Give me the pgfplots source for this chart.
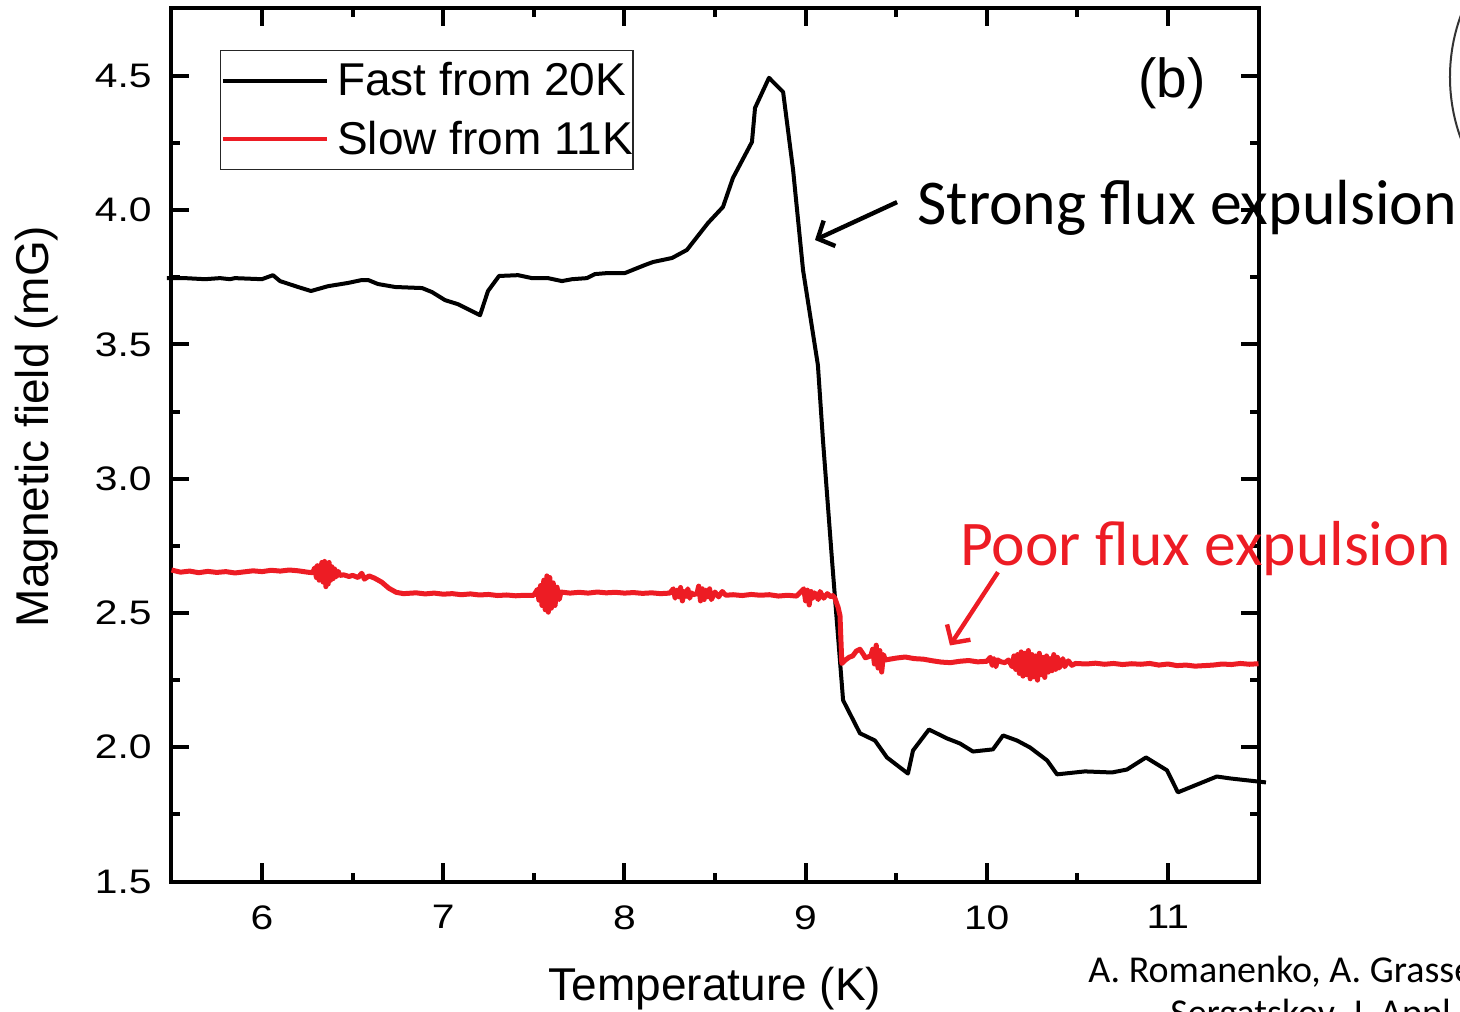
\documentclass[border=0pt]{standalone}
\usepackage{fontspec}
\setmainfont{Liberation Sans}
\newfontfamily\calibri{Carlito}
\newfontfamily\tickfont[FakeStretch=1.2]{Liberation Sans}
\usepackage{pgfplots}
\pgfplotsset{compat=1.18}
\usetikzlibrary{arrows.meta}
\definecolor{myred}{RGB}{237,28,36}
\begin{document}
\begin{tikzpicture}
\useasboundingbox (-85.75pt,-64.75pt) rectangle (644.25pt,440.75pt);
\clip (-85.75pt,-64.75pt) rectangle (644.25pt,440.75pt);
\begin{axis}[
  at={(0,0)}, anchor=south west,
  scale only axis, width=543.5pt, height=436.75pt,
  xmin=5.5, xmax=11.5, ymin=1.5, ymax=4.753,
  xtick={6,7,8,9,10,11}, ytick={1.5,2,2.5,3,3.5,4,4.5},
  minor x tick num=1, minor y tick num=1,
  tick align=inside, major tick length=9pt, minor tick length=4.5pt,
  axis line style={line width=2pt},
  every tick/.style={line width=2pt, black},
  /pgf/number format/assume math mode=true,
  tick label style={font={\fontsize{17}{20}\tickfont}},
  xticklabel style={inner sep=0pt, anchor=north, yshift=-11.75pt},
  yticklabel style={inner sep=0pt, anchor=east, xshift=-9.75pt,
    /pgf/number format/fixed, /pgf/number format/fixed zerofill, /pgf/number format/precision=1},
  xlabel={Temperature (K)},
  ylabel={Magnetic field (mG)},
  label style={font=\fontsize{23}{27.6}\selectfont},
  xlabel style={at={(axis description cs:0.5,-0.1368)}, anchor=base, inner sep=0pt},
  ylabel style={at={(axis description cs:-0.1127,0.521)}, anchor=base, inner sep=0pt, rotate=0},
  clip=false,
  legend style={at={(axis description cs:0.0446,0.952)}, anchor=north west,
    draw=black!85, line width=0.75pt, inner xsep=0pt, inner ysep=4pt,
    font=\fontsize{23}{27.6}\selectfont, row sep=7pt, column sep=4pt,
    nodes={inner xsep=0pt, inner ysep=2pt}},
  legend cell align=left,
  legend image code/.code={\draw[#1, line width=2.2pt] (0pt,0pt) -- (52pt,0pt);},
]
\addplot[black, line width=2pt, line join=round] coordinates {
(5.475,3.747)(5.575,3.747)(5.685,3.743)(5.768,3.747)(5.823,3.743)(5.850,3.747)(5.999,3.743)(6.060,3.758)(6.099,3.736)(6.198,3.714)(6.270,3.699)(6.364,3.717)(6.474,3.729)(6.551,3.740)(6.585,3.740)(6.640,3.725)(6.734,3.714)(6.883,3.710)(6.938,3.695)(7.010,3.665)(7.081,3.650)(7.203,3.609)(7.247,3.699)(7.308,3.755)(7.413,3.758)(7.490,3.747)(7.578,3.747)(7.655,3.736)(7.711,3.743)(7.793,3.747)(7.837,3.762)(7.909,3.766)(8.003,3.766)(8.114,3.796)(8.158,3.807)(8.263,3.822)(8.345,3.852)(8.461,3.952)(8.544,4.012)(8.599,4.120)(8.704,4.254)(8.721,4.381)(8.798,4.493)(8.876,4.440)(8.931,4.150)(8.986,3.777)(9.068,3.423)(9.096,3.143)(9.146,2.696)(9.207,2.175)(9.300,2.052)(9.383,2.025)(9.449,1.962)(9.565,1.902)(9.593,1.988)(9.681,2.066)(9.780,2.033)(9.852,2.014)(9.924,1.984)(10.034,1.992)(10.090,2.044)(10.167,2.025)(10.239,1.999)(10.333,1.951)(10.388,1.899)(10.542,1.910)(10.691,1.906)(10.774,1.917)(10.879,1.962)(10.995,1.914)(11.055,1.832)(11.270,1.891)(11.342,1.884)(11.541,1.869)
};
\addlegendentry{Fast from 20K}
\addplot[myred, line width=2.5pt, line join=round] coordinates {
(5.50,2.660)(5.55,2.652)(5.60,2.656)(5.65,2.650)(5.70,2.655)(5.75,2.651)(5.80,2.654)(5.85,2.649)(5.90,2.653)(5.95,2.657)(6.00,2.654)(6.05,2.659)(6.10,2.656)(6.15,2.660)(6.20,2.657)(6.25,2.652)(6.28,2.650)
(6.29,2.668)(6.30,2.632)(6.305,2.676)(6.315,2.622)(6.33,2.688)(6.337,2.615)(6.345,2.692)(6.352,2.598)(6.358,2.682)(6.365,2.608)(6.37,2.688)(6.378,2.622)(6.385,2.672)(6.392,2.628)(6.40,2.664)(6.41,2.635)(6.42,2.655)(6.43,2.640)
(6.45,2.642)(6.48,2.636)(6.50,2.640)(6.53,2.632)(6.55,2.648)(6.565,2.626)(6.59,2.638)(6.62,2.630)
(6.66,2.615)(6.70,2.592)(6.74,2.577)(6.78,2.572)
(6.85,2.575)(6.90,2.571)(6.95,2.574)(7.00,2.570)(7.05,2.572)(7.10,2.568)(7.15,2.571)(7.20,2.567)(7.25,2.569)(7.30,2.565)(7.35,2.567)(7.40,2.564)(7.45,2.566)(7.50,2.566)
(7.52,2.588)(7.528,2.548)(7.537,2.602)(7.545,2.528)(7.555,2.622)(7.563,2.512)(7.572,2.638)(7.58,2.503)(7.588,2.632)(7.597,2.518)(7.607,2.612)(7.617,2.528)(7.628,2.596)(7.64,2.550)(7.65,2.578)
(7.70,2.574)(7.75,2.577)(7.80,2.574)(7.85,2.578)(7.90,2.575)(7.95,2.577)(8.00,2.574)(8.05,2.576)(8.10,2.573)(8.15,2.575)(8.20,2.572)(8.25,2.574)
(8.27,2.590)(8.28,2.555)(8.29,2.585)(8.30,2.560)(8.31,2.595)(8.32,2.545)(8.33,2.580)(8.34,2.562)(8.35,2.590)(8.36,2.555)(8.37,2.575)(8.38,2.568)(8.40,2.572)(8.41,2.600)(8.42,2.545)(8.43,2.590)(8.44,2.550)(8.45,2.585)(8.46,2.560)(8.47,2.590)(8.48,2.550)(8.50,2.578)(8.52,2.560)(8.54,2.580)(8.56,2.566)
(8.60,2.568)(8.65,2.565)(8.70,2.569)(8.75,2.566)(8.80,2.568)(8.85,2.563)(8.90,2.566)(8.95,2.563)
(8.99,2.590)(9.00,2.545)(9.01,2.585)(9.02,2.530)(9.03,2.580)(9.04,2.555)(9.05,2.575)(9.07,2.550)(9.08,2.580)(9.10,2.555)(9.12,2.572)(9.14,2.560)(9.15,2.565)
(9.16,2.558)(9.18,2.520)(9.19,2.490)(9.20,2.312)
(9.22,2.325)(9.24,2.335)(9.26,2.340)(9.28,2.358)(9.30,2.365)(9.32,2.345)(9.33,2.333)
(9.36,2.340)(9.37,2.365)(9.38,2.310)(9.39,2.380)(9.40,2.295)(9.41,2.360)(9.42,2.280)(9.43,2.345)(9.44,2.325)
(9.50,2.332)(9.55,2.336)(9.60,2.330)(9.65,2.328)(9.70,2.322)(9.75,2.317)(9.80,2.315)(9.85,2.320)(9.90,2.323)(9.95,2.318)
(10.00,2.320)(10.02,2.335)(10.03,2.305)(10.04,2.330)(10.05,2.300)(10.06,2.325)(10.08,2.318)
(10.10,2.315)(10.12,2.325)(10.14,2.300)(10.15,2.340)(10.16,2.290)(10.17,2.345)(10.18,2.275)(10.19,2.355)(10.20,2.265)(10.21,2.350)(10.22,2.270)(10.23,2.360)(10.24,2.255)(10.25,2.345)(10.26,2.262)(10.27,2.340)(10.28,2.250)(10.29,2.350)(10.30,2.270)(10.31,2.335)(10.32,2.260)(10.33,2.340)(10.34,2.280)(10.35,2.330)(10.36,2.285)(10.37,2.345)(10.38,2.290)(10.39,2.335)(10.40,2.295)(10.42,2.330)(10.43,2.300)(10.45,2.322)(10.47,2.305)(10.49,2.312)
(10.55,2.310)(10.60,2.313)(10.65,2.309)(10.70,2.312)(10.75,2.308)(10.80,2.311)(10.85,2.309)(10.90,2.312)(10.95,2.306)(11.00,2.310)(11.05,2.304)(11.10,2.306)(11.15,2.302)(11.20,2.304)(11.25,2.306)(11.30,2.310)(11.35,2.308)(11.40,2.312)(11.45,2.309)(11.50,2.311)
};
\addlegendentry{Slow from 11K}
\node[anchor=base west, inner sep=0pt, font=\fontsize{27.5}{33}\selectfont] at (axis cs:10.835,4.418) {(b)};
\node[anchor=base west, inner sep=0pt, font={\fontsize{31.9}{38}\calibri}] at (axis cs:9.615,3.948) {Strong flux expulsion};
\node[anchor=base west, inner sep=0pt, text=myred, font={\fontsize{31.8}{38}\calibri}] at (axis cs:9.852,2.678) {Poor flux expulsion};
\draw[line width=2.2pt, -{Straight Barb[length=6.5pt,width=14pt]}] (axis cs:9.505,4.030) -- (axis cs:9.052,3.889);
\draw[myred, line width=2.2pt, -{Straight Barb[length=6.5pt,width=14pt]}] (axis cs:10.062,2.652) -- (axis cs:9.797,2.379);
\node[anchor=base west, inner sep=0pt, font={\fontsize{19}{23}\calibri}] at (axis cs:10.559,1.124) {A. Romanenko, A. Grassellino, O. Melnychuk, and D. A.};
\node[anchor=base west, inner sep=0pt, font={\fontsize{19}{23}\calibri}] at (axis cs:11.011,0.963) {Sergatskov, J. Appl. Phys. 115, 184903 (2014)};
\draw[line width=1pt, black!80] (axis cs:13.545,4.496) circle[radius=89.5pt];
\end{axis}
\end{tikzpicture}
\end{document}
